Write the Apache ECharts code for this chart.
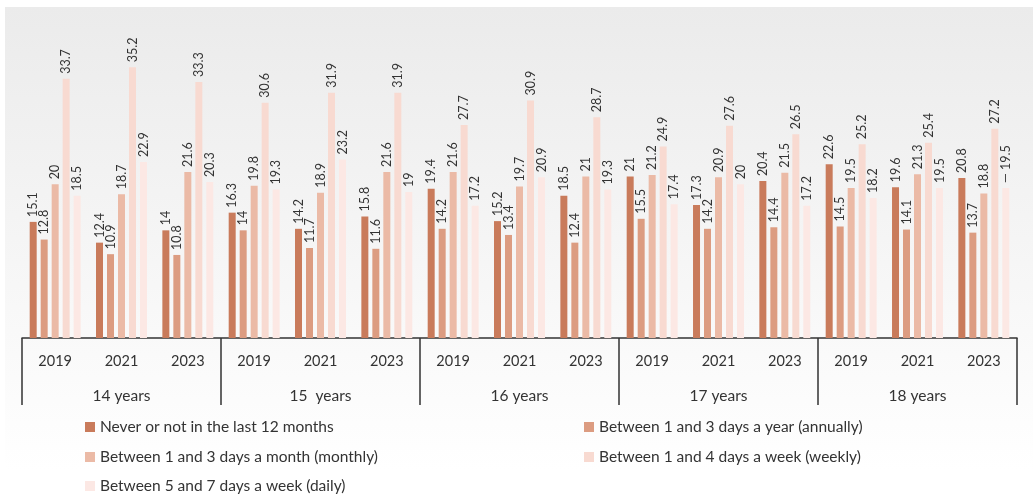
<!DOCTYPE html>
<html>
<head>
<meta charset="utf-8">
<script src="https://cdn.jsdelivr.net/npm/echarts@6/dist/echarts.min.js"></script>
<style>
  html, body { margin: 0; padding: 0; background: #fff; }
  #main { width: 1033px; height: 495px; }
</style>
</head>
<body>
<div id="main"></div>
<script>
// categories
var years = ['2019', '2021', '2023'];
var ages = ['14 years', '15  years', '16 years', '17 years', '18 years'];

var seriesNames = [
    'Never or not in the last 12 months',
    'Between 1 and 3 days a year (annually)',
    'Between 1 and 3 days a month (monthly)',
    'Between 1 and 4 days a week (weekly)',
    'Between 5 and 7 days a week (daily)'
];

// values, in order 14y 2019/2021/2023, 15y ..., 18y
var never    = [15.1, 12.4, 14,   16.3, 14.2, 15.8, 19.4, 15.2, 18.5, 21,   17.3, 20.4, 22.6, 19.6, 20.8];
var annually = [12.8, 10.9, 10.8, 14,   11.7, 11.6, 14.2, 13.4, 12.4, 15.5, 14.2, 14.4, 14.5, 14.1, 13.7];
var monthly  = [20,   18.7, 21.6, 19.8, 18.9, 21.6, 21.6, 19.7, 21,   21.2, 20.9, 21.5, 19.5, 21.3, 18.8];
var weekly   = [33.7, 35.2, 33.3, 30.6, 31.9, 31.9, 27.7, 30.9, 28.7, 24.9, 27.6, 26.5, 25.2, 25.4, 27.2];
var daily    = [18.5, 22.9, 20.3, 19.3, 23.2, 19,   17.2, 20.9, 19.3, 17.4, 20,   17.2, 18.2, 19.5, 19.5];

var colors = ['#c97b5b', '#dc9c81', '#ebbaa6', '#f8dad1', '#fce8e4'];

var yearCats = [];
ages.forEach(function () { years.forEach(function (y) { yearCats.push(y); }); });

var allData = [never, annually, monthly, weekly, daily];

var myChart = echarts.init(document.getElementById('main'));

var series = allData.map(function (arr, i) {
    var data = arr.map(function (v, j) {
        // the last daily label carries a little leader dash in the original
        if (i === 4 && j === arr.length - 1) {
            return { value: v, label: { formatter: '— {c}' } };
        }
        return v;
    });
    return {
        name: seriesNames[i],
        type: 'bar',
        xAxisIndex: 0,
        barWidth: 7,
        barGap: '57%',
        itemStyle: { color: colors[i] },
        label: {
            show: true,
            position: 'top',
            rotate: 90,
            align: 'left',
            verticalAlign: 'middle',
            distance: 5,
            fontFamily: 'Lato',
            fontSize: 12.5,
            color: '#333'
        },
        data: data
    };
});

// one legend per item so the two-column layout lines up like the original
var legendPos = [[85, 427], [584, 427], [85, 457], [584, 457], [85, 486]];
var legends = seriesNames.map(function (name, i) {
    return {
        left: legendPos[i][0],
        top: legendPos[i][1] - 10,
        padding: 0,
        itemWidth: 10,
        itemHeight: 10,
        itemGap: 5,
        icon: 'rect',
        selectedMode: false,
        textStyle: { fontFamily: 'Lato', fontSize: 15.5, color: '#333', lineHeight: 20 },
        data: [name]
    };
});

var option = {
    animation: false,
    textStyle: { fontFamily: 'Lato' },
    graphic: [{
        type: 'rect',
        z: -10,
        silent: true,
        shape: { x: 5, y: 7, width: 1028, height: 463 },
        style: {
            fill: new echarts.graphic.LinearGradient(0, 0, 0, 1, [
                { offset: 0, color: '#ebebeb' },
                { offset: 1, color: '#ffffff' }
            ])
        }
    }],
    legend: legends,
    grid: { left: 22, right: 16, top: 30.4, bottom: 157 },
    xAxis: [{
        type: 'category',
        data: yearCats,
        position: 'bottom',
        axisLine: { lineStyle: { color: '#333', width: 1.5 } },
        axisTick: { show: false },
        axisLabel: { fontFamily: 'Lato', fontSize: 14.5, color: '#333', margin: 16 }
    }, {
        type: 'category',
        data: ages,
        position: 'bottom',
        axisLine: { show: false },
        axisTick: { show: true, length: 67, lineStyle: { color: '#333', width: 1.5 } },
        axisLabel: { fontFamily: 'Lato', fontSize: 15.5, color: '#333', margin: 50 }
    }],
    yAxis: {
        type: 'value',
        min: 0,
        max: 40,
        show: false,
        splitLine: { show: false }
    },
    series: series
};

myChart.setOption(option);

window.addEventListener('resize', function () {
    myChart.resize();
});
</script>
</body>
</html>
